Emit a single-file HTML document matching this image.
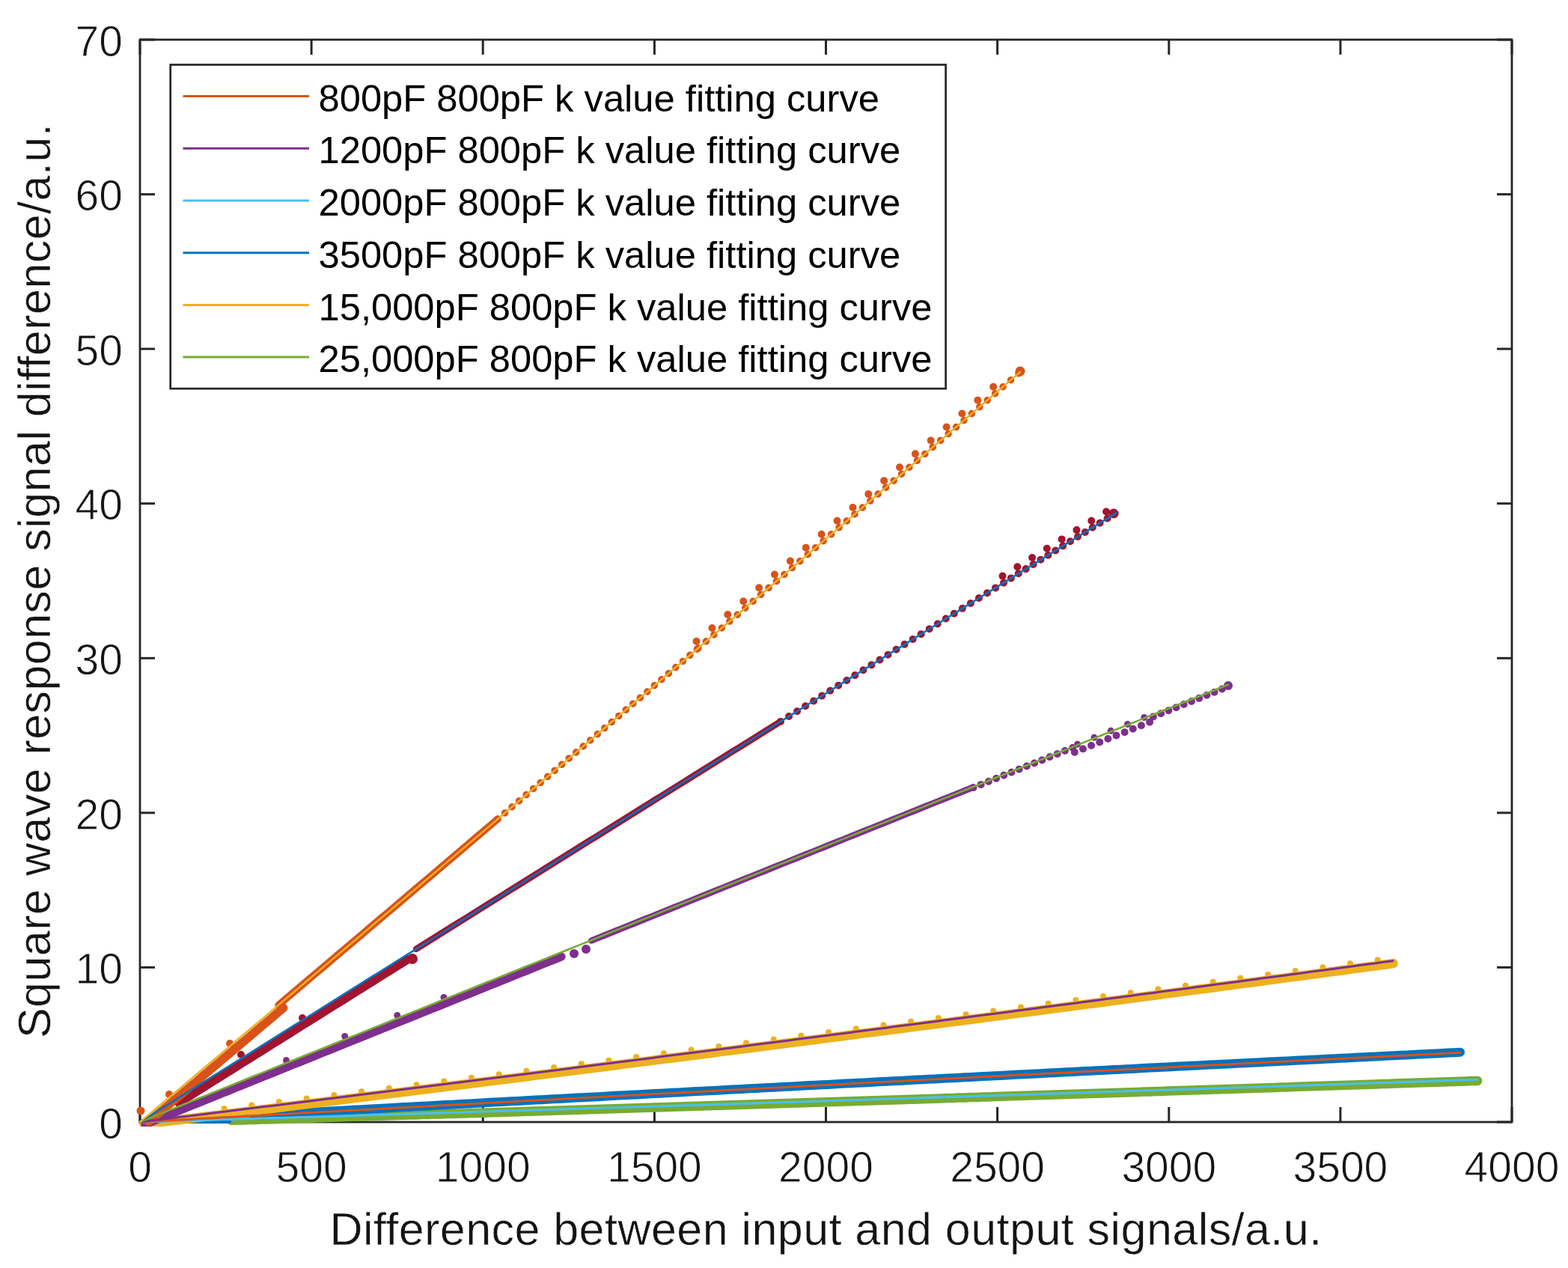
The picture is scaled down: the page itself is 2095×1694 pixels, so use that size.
<!DOCTYPE html>
<html><head><meta charset="utf-8"><style>
html,body{margin:0;padding:0;background:#fff;}
svg{display:block;}
text{font-family:"Liberation Sans",Arial,sans-serif;fill:#141414;stroke:#fff;stroke-width:0.9px;paint-order:fill;}
</style></head><body>
<svg width="2095" height="1694" viewBox="0 0 2095 1694">
<rect width="2095" height="1694" fill="#fff"/>
<defs><clipPath id="c"><rect x="179.0" y="53.0" width="1841.0" height="1452.0"/></clipPath></defs>
<rect x="187.0" y="53.0" width="1833.0" height="1446.0" fill="none" stroke="#262626" stroke-width="2.8"/>
<line x1="187.0" y1="1499.0" x2="187.0" y2="1479.0" stroke="#262626" stroke-width="3"/>
<line x1="187.0" y1="53.0" x2="187.0" y2="73.0" stroke="#262626" stroke-width="3"/>
<line x1="416.1" y1="1499.0" x2="416.1" y2="1479.0" stroke="#262626" stroke-width="3"/>
<line x1="416.1" y1="53.0" x2="416.1" y2="73.0" stroke="#262626" stroke-width="3"/>
<line x1="645.2" y1="1499.0" x2="645.2" y2="1479.0" stroke="#262626" stroke-width="3"/>
<line x1="645.2" y1="53.0" x2="645.2" y2="73.0" stroke="#262626" stroke-width="3"/>
<line x1="874.4" y1="1499.0" x2="874.4" y2="1479.0" stroke="#262626" stroke-width="3"/>
<line x1="874.4" y1="53.0" x2="874.4" y2="73.0" stroke="#262626" stroke-width="3"/>
<line x1="1103.5" y1="1499.0" x2="1103.5" y2="1479.0" stroke="#262626" stroke-width="3"/>
<line x1="1103.5" y1="53.0" x2="1103.5" y2="73.0" stroke="#262626" stroke-width="3"/>
<line x1="1332.6" y1="1499.0" x2="1332.6" y2="1479.0" stroke="#262626" stroke-width="3"/>
<line x1="1332.6" y1="53.0" x2="1332.6" y2="73.0" stroke="#262626" stroke-width="3"/>
<line x1="1561.8" y1="1499.0" x2="1561.8" y2="1479.0" stroke="#262626" stroke-width="3"/>
<line x1="1561.8" y1="53.0" x2="1561.8" y2="73.0" stroke="#262626" stroke-width="3"/>
<line x1="1790.9" y1="1499.0" x2="1790.9" y2="1479.0" stroke="#262626" stroke-width="3"/>
<line x1="1790.9" y1="53.0" x2="1790.9" y2="73.0" stroke="#262626" stroke-width="3"/>
<line x1="2020.0" y1="1499.0" x2="2020.0" y2="1479.0" stroke="#262626" stroke-width="3"/>
<line x1="2020.0" y1="53.0" x2="2020.0" y2="73.0" stroke="#262626" stroke-width="3"/>
<line x1="187.0" y1="1499.0" x2="207.0" y2="1499.0" stroke="#262626" stroke-width="3"/>
<line x1="2020.0" y1="1499.0" x2="2000.0" y2="1499.0" stroke="#262626" stroke-width="3"/>
<line x1="187.0" y1="1292.4" x2="207.0" y2="1292.4" stroke="#262626" stroke-width="3"/>
<line x1="2020.0" y1="1292.4" x2="2000.0" y2="1292.4" stroke="#262626" stroke-width="3"/>
<line x1="187.0" y1="1085.9" x2="207.0" y2="1085.9" stroke="#262626" stroke-width="3"/>
<line x1="2020.0" y1="1085.9" x2="2000.0" y2="1085.9" stroke="#262626" stroke-width="3"/>
<line x1="187.0" y1="879.3" x2="207.0" y2="879.3" stroke="#262626" stroke-width="3"/>
<line x1="2020.0" y1="879.3" x2="2000.0" y2="879.3" stroke="#262626" stroke-width="3"/>
<line x1="187.0" y1="672.7" x2="207.0" y2="672.7" stroke="#262626" stroke-width="3"/>
<line x1="2020.0" y1="672.7" x2="2000.0" y2="672.7" stroke="#262626" stroke-width="3"/>
<line x1="187.0" y1="466.1" x2="207.0" y2="466.1" stroke="#262626" stroke-width="3"/>
<line x1="2020.0" y1="466.1" x2="2000.0" y2="466.1" stroke="#262626" stroke-width="3"/>
<line x1="187.0" y1="259.6" x2="207.0" y2="259.6" stroke="#262626" stroke-width="3"/>
<line x1="2020.0" y1="259.6" x2="2000.0" y2="259.6" stroke="#262626" stroke-width="3"/>
<line x1="187.0" y1="53.0" x2="207.0" y2="53.0" stroke="#262626" stroke-width="3"/>
<line x1="2020.0" y1="53.0" x2="2000.0" y2="53.0" stroke="#262626" stroke-width="3"/>
<text x="187.0" y="1579" text-anchor="middle" font-size="57">0</text>
<text x="416.1" y="1579" text-anchor="middle" font-size="57">500</text>
<text x="645.2" y="1579" text-anchor="middle" font-size="57">1000</text>
<text x="874.4" y="1579" text-anchor="middle" font-size="57">1500</text>
<text x="1103.5" y="1579" text-anchor="middle" font-size="57">2000</text>
<text x="1332.6" y="1579" text-anchor="middle" font-size="57">2500</text>
<text x="1561.8" y="1579" text-anchor="middle" font-size="57">3000</text>
<text x="1790.9" y="1579" text-anchor="middle" font-size="57">3500</text>
<text x="2020.0" y="1579" text-anchor="middle" font-size="57">4000</text>
<text x="164" y="1520.6" text-anchor="end" font-size="57">0</text>
<text x="164" y="1314.0" text-anchor="end" font-size="57">10</text>
<text x="164" y="1107.5" text-anchor="end" font-size="57">20</text>
<text x="164" y="900.9" text-anchor="end" font-size="57">30</text>
<text x="164" y="694.3" text-anchor="end" font-size="57">40</text>
<text x="164" y="487.7" text-anchor="end" font-size="57">50</text>
<text x="164" y="281.2" text-anchor="end" font-size="57">60</text>
<text x="164" y="74.6" text-anchor="end" font-size="57">70</text>
<text x="1103.5" y="1663" text-anchor="middle" font-size="61" letter-spacing="0.45" style="stroke-width:0.5px">Difference between input and output signals/a.u.</text>
<text transform="translate(66.8,776.0) rotate(-90)" x="0" y="0" text-anchor="middle" font-size="61" letter-spacing="0.45" style="stroke-width:0.5px">Square wave response signal difference/a.u.</text>
<g clip-path="url(#c)">
<path d="M309.0,1496.8 L317.0,1496.6 L325.0,1496.4 L332.9,1496.1 L340.9,1495.9 L348.9,1495.6 L356.8,1495.4 L364.8,1495.2 L372.8,1494.9 L380.7,1494.7 L388.7,1494.4 L396.7,1494.2 L404.6,1494.0 L412.6,1493.7 L420.6,1493.5 L428.5,1493.2 L436.5,1493.0 L444.5,1492.8 L452.4,1492.5 L460.4,1492.3 L468.4,1492.0 L476.3,1491.8 L484.3,1491.5 L492.3,1491.3 L500.2,1491.1 L508.2,1490.8 L516.2,1490.6 L524.1,1490.3 L532.1,1490.1 L540.1,1489.8 L548.0,1489.6 L556.0,1489.4 L564.0,1489.1 L571.9,1488.9 L579.9,1488.6 L587.9,1488.4 L595.8,1488.1 L603.8,1487.9 L611.8,1487.7 L619.7,1487.4 L627.7,1487.2 L635.7,1486.9 L643.6,1486.7 L651.6,1486.4 L659.6,1486.2 L667.5,1485.9 L675.5,1485.7 L683.5,1485.4 L691.4,1485.2 L699.4,1485.0 L707.4,1484.7 L715.3,1484.5 L723.3,1484.2 L731.3,1484.0 L739.2,1483.7 L747.2,1483.5 L755.2,1483.2 L763.1,1483.0 L771.1,1482.7 L779.1,1482.5 L787.0,1482.2 L795.0,1482.0 L803.0,1481.7 L810.9,1481.5 L818.9,1481.2 L826.9,1481.0 L834.8,1480.8 L842.8,1480.5 L850.8,1480.3 L858.7,1480.0 L866.7,1479.8 L874.7,1479.5 L882.6,1479.3 L890.6,1479.0 L898.6,1478.8 L906.5,1478.5 L914.5,1478.3 L922.5,1478.0 L930.4,1477.8 L938.4,1477.5 L946.4,1477.3 L954.3,1477.0 L962.3,1476.8 L970.3,1476.5 L978.2,1476.3 L986.2,1476.0 L994.2,1475.8 L1002.1,1475.5 L1010.1,1475.3 L1018.1,1475.0 L1026.0,1474.8 L1034.0,1474.5 L1042.0,1474.3 L1049.9,1474.0 L1057.9,1473.7 L1065.9,1473.5 L1073.8,1473.2 L1081.8,1473.0 L1089.8,1472.7 L1097.7,1472.5 L1105.7,1472.2 L1113.7,1472.0 L1121.6,1471.7 L1129.6,1471.5 L1137.6,1471.2 L1145.5,1471.0 L1153.5,1470.7 L1161.5,1470.5 L1169.4,1470.2 L1177.4,1470.0 L1185.4,1469.7 L1193.3,1469.4 L1201.3,1469.2 L1209.3,1468.9 L1217.2,1468.7 L1225.2,1468.4 L1233.2,1468.2 L1241.1,1467.9 L1249.1,1467.7 L1257.1,1467.4 L1265.0,1467.1 L1273.0,1466.9 L1281.0,1466.6 L1288.9,1466.4 L1296.9,1466.1 L1304.9,1465.9 L1312.8,1465.6 L1320.8,1465.4 L1328.8,1465.1 L1336.7,1464.8 L1344.7,1464.6 L1352.7,1464.3 L1360.6,1464.1 L1368.6,1463.8 L1376.6,1463.6 L1384.5,1463.3 L1392.5,1463.0 L1400.5,1462.8 L1408.4,1462.5 L1416.4,1462.3 L1424.4,1462.0 L1432.3,1461.8 L1440.3,1461.5 L1448.3,1461.2 L1456.2,1461.0 L1464.2,1460.7 L1472.2,1460.5 L1480.1,1460.2 L1488.1,1459.9 L1496.1,1459.7 L1504.0,1459.4 L1512.0,1459.2 L1520.0,1458.9 L1527.9,1458.6 L1535.9,1458.4 L1543.9,1458.1 L1551.8,1457.9 L1559.8,1457.6 L1567.8,1457.3 L1575.7,1457.1 L1583.7,1456.8 L1591.7,1456.6 L1599.6,1456.3 L1607.6,1456.0 L1615.6,1455.8 L1623.5,1455.5 L1631.5,1455.2 L1639.5,1455.0 L1647.4,1454.7 L1655.4,1454.5 L1663.4,1454.2 L1671.3,1453.9 L1679.3,1453.7 L1687.3,1453.4 L1695.2,1453.2 L1703.2,1452.9 L1711.2,1452.6 L1719.1,1452.4 L1727.1,1452.1 L1735.1,1451.8 L1743.0,1451.6 L1751.0,1451.3 L1759.0,1451.0 L1766.9,1450.8 L1774.9,1450.5 L1782.9,1450.3 L1790.8,1450.0 L1798.8,1449.7 L1806.8,1449.5 L1814.7,1449.2 L1822.7,1448.9 L1830.7,1448.7 L1838.6,1448.4 L1846.6,1448.1 L1854.6,1447.9 L1862.5,1447.6 L1870.5,1447.3 L1878.5,1447.1 L1886.4,1446.8 L1894.4,1446.5 L1902.4,1446.3 L1910.3,1446.0 L1918.3,1445.7 L1926.3,1445.5 L1934.2,1445.2 L1942.2,1444.9 L1950.2,1444.7 L1958.1,1444.4 L1966.1,1444.1 L1974.1,1443.9" fill="none" stroke="#77AC30" stroke-width="12.5" stroke-linecap="round" stroke-linejoin="round" />
<path d="M190.0,1498.0 L306.0,1498.0" fill="none" stroke="#0072BD" stroke-width="6" stroke-linecap="round" stroke-linejoin="round" />
<path d="M340.0,1490.0 L347.9,1489.6 L355.9,1489.2 L363.9,1488.7 L371.9,1488.3 L379.8,1487.8 L387.8,1487.4 L395.8,1487.0 L403.8,1486.5 L411.7,1486.1 L419.7,1485.6 L427.7,1485.2 L435.7,1484.8 L443.7,1484.3 L451.6,1483.9 L459.6,1483.5 L467.6,1483.0 L475.6,1482.6 L483.5,1482.2 L491.5,1481.7 L499.5,1481.3 L507.5,1480.9 L515.4,1480.4 L523.4,1480.0 L531.4,1479.6 L539.4,1479.1 L547.3,1478.7 L555.3,1478.3 L563.3,1477.8 L571.3,1477.4 L579.2,1477.0 L587.2,1476.5 L595.2,1476.1 L603.2,1475.7 L611.1,1475.2 L619.1,1474.8 L627.1,1474.4 L635.1,1473.9 L643.0,1473.5 L651.0,1473.1 L659.0,1472.6 L667.0,1472.2 L674.9,1471.8 L682.9,1471.3 L690.9,1470.9 L698.9,1470.5 L706.8,1470.1 L714.8,1469.6 L722.8,1469.2 L730.8,1468.8 L738.7,1468.3 L746.7,1467.9 L754.7,1467.5 L762.7,1467.1 L770.6,1466.6 L778.6,1466.2 L786.6,1465.8 L794.6,1465.4 L802.5,1464.9 L810.5,1464.5 L818.5,1464.1 L826.5,1463.6 L834.4,1463.2 L842.4,1462.8 L850.4,1462.4 L858.4,1461.9 L866.3,1461.5 L874.3,1461.1 L882.3,1460.7 L890.3,1460.2 L898.2,1459.8 L906.2,1459.4 L914.2,1459.0 L922.2,1458.6 L930.1,1458.1 L938.1,1457.7 L946.1,1457.3 L954.1,1456.9 L962.0,1456.4 L970.0,1456.0 L978.0,1455.6 L986.0,1455.2 L993.9,1454.8 L1001.9,1454.3 L1009.9,1453.9 L1017.9,1453.5 L1025.8,1453.1 L1033.8,1452.7 L1041.8,1452.2 L1049.8,1451.8 L1057.7,1451.4 L1065.7,1451.0 L1073.7,1450.6 L1081.7,1450.1 L1089.6,1449.7 L1097.6,1449.3 L1105.6,1448.9 L1113.6,1448.5 L1121.5,1448.0 L1129.5,1447.6 L1137.5,1447.2 L1145.5,1446.8 L1153.4,1446.4 L1161.4,1446.0 L1169.4,1445.5 L1177.4,1445.1 L1185.4,1444.7 L1193.3,1444.3 L1201.3,1443.9 L1209.3,1443.5 L1217.3,1443.1 L1225.2,1442.6 L1233.2,1442.2 L1241.2,1441.8 L1249.2,1441.4 L1257.1,1441.0 L1265.1,1440.6 L1273.1,1440.2 L1281.1,1439.7 L1289.0,1439.3 L1297.0,1438.9 L1305.0,1438.5 L1313.0,1438.1 L1320.9,1437.7 L1328.9,1437.3 L1336.9,1436.9 L1344.9,1436.4 L1352.8,1436.0 L1360.8,1435.6 L1368.8,1435.2 L1376.8,1434.8 L1384.7,1434.4 L1392.7,1434.0 L1400.7,1433.6 L1408.7,1433.2 L1416.6,1432.8 L1424.6,1432.3 L1432.6,1431.9 L1440.6,1431.5 L1448.5,1431.1 L1456.5,1430.7 L1464.5,1430.3 L1472.5,1429.9 L1480.4,1429.5 L1488.4,1429.1 L1496.4,1428.7 L1504.4,1428.3 L1512.3,1427.9 L1520.3,1427.4 L1528.3,1427.0 L1536.3,1426.6 L1544.2,1426.2 L1552.2,1425.8 L1560.2,1425.4 L1568.2,1425.0 L1576.1,1424.6 L1584.1,1424.2 L1592.1,1423.8 L1600.1,1423.4 L1608.0,1423.0 L1616.0,1422.6 L1624.0,1422.2 L1632.0,1421.8 L1639.9,1421.4 L1647.9,1421.0 L1655.9,1420.6 L1663.9,1420.2 L1671.8,1419.8 L1679.8,1419.4 L1687.8,1419.0 L1695.8,1418.6 L1703.7,1418.2 L1711.7,1417.8 L1719.7,1417.4 L1727.7,1417.0 L1735.6,1416.6 L1743.6,1416.2 L1751.6,1415.8 L1759.6,1415.4 L1767.5,1415.0 L1775.5,1414.6 L1783.5,1414.2 L1791.5,1413.8 L1799.4,1413.4 L1807.4,1413.0 L1815.4,1412.6 L1823.4,1412.2 L1831.3,1411.8 L1839.3,1411.4 L1847.3,1411.0 L1855.3,1410.6 L1863.2,1410.2 L1871.2,1409.8 L1879.2,1409.4 L1887.2,1409.0 L1895.1,1408.6 L1903.1,1408.2 L1911.1,1407.8 L1919.1,1407.4 L1927.0,1407.0 L1935.0,1406.6 L1943.0,1406.2 L1951.0,1405.8" fill="none" stroke="#0072BD" stroke-width="12" stroke-linecap="round" stroke-linejoin="round" />
<path d="M192.4,1501.9 L200.4,1500.9 L208.4,1499.9 L216.4,1498.9 L224.4,1497.9 L232.4,1496.9 L240.3,1496.0 L248.3,1495.0 L256.3,1494.0 L264.3,1493.0 L272.3,1492.0 L280.3,1491.0 L288.3,1490.1 L296.2,1489.1 L304.2,1488.1 L312.2,1487.1 L320.2,1486.1 L328.2,1485.1 L336.2,1484.1 L344.2,1483.1 L352.1,1482.1 L360.1,1481.2 L368.1,1480.2 L376.1,1479.2 L384.1,1478.2 L392.1,1477.2 L400.1,1476.2 L408.0,1475.2 L416.0,1474.2 L424.0,1473.2 L432.0,1472.2 L440.0,1471.2 L448.0,1470.2 L456.0,1469.2 L463.9,1468.2 L471.9,1467.2 L479.9,1466.2 L487.9,1465.3 L495.9,1464.3 L503.9,1463.3 L511.9,1462.3 L519.8,1461.3 L527.8,1460.3 L535.8,1459.3 L543.8,1458.3 L551.8,1457.3 L559.8,1456.3 L567.8,1455.3 L575.7,1454.3 L583.7,1453.2 L591.7,1452.2 L599.7,1451.2 L607.7,1450.2 L615.7,1449.2 L623.7,1448.2 L631.6,1447.2 L639.6,1446.2 L647.6,1445.2 L655.6,1444.2 L663.6,1443.2 L671.6,1442.2 L679.6,1441.2 L687.5,1440.2 L695.5,1439.2 L703.5,1438.2 L711.5,1437.1 L719.5,1436.1 L727.5,1435.1 L735.5,1434.1 L743.4,1433.1 L751.4,1432.1 L759.4,1431.1 L767.4,1430.1 L775.4,1429.1 L783.4,1428.0 L791.4,1427.0 L799.4,1426.0 L807.3,1425.0 L815.3,1424.0 L823.3,1423.0 L831.3,1421.9 L839.3,1420.9 L847.3,1419.9 L855.3,1418.9 L863.2,1417.9 L871.2,1416.9 L879.2,1415.8 L887.2,1414.8 L895.2,1413.8 L903.2,1412.8 L911.2,1411.8 L919.1,1410.7 L927.1,1409.7 L935.1,1408.7 L943.1,1407.7 L951.1,1406.7 L959.1,1405.6 L967.1,1404.6 L975.0,1403.6 L983.0,1402.6 L991.0,1401.5 L999.0,1400.5 L1007.0,1399.5 L1015.0,1398.5 L1023.0,1397.4 L1030.9,1396.4 L1038.9,1395.4 L1046.9,1394.3 L1054.9,1393.3 L1062.9,1392.3 L1070.9,1391.3 L1078.9,1390.2 L1086.8,1389.2 L1094.8,1388.2 L1102.8,1387.1 L1110.8,1386.1 L1118.8,1385.1 L1126.8,1384.0 L1134.8,1383.0 L1142.7,1382.0 L1150.7,1380.9 L1158.7,1379.9 L1166.7,1378.9 L1174.7,1377.8 L1182.7,1376.8 L1190.7,1375.8 L1198.6,1374.7 L1206.6,1373.7 L1214.6,1372.6 L1222.6,1371.6 L1230.6,1370.6 L1238.6,1369.5 L1246.6,1368.5 L1254.5,1367.5 L1262.5,1366.4 L1270.5,1365.4 L1278.5,1364.3 L1286.5,1363.3 L1294.5,1362.2 L1302.5,1361.2 L1310.4,1360.2 L1318.4,1359.1 L1326.4,1358.1 L1334.4,1357.0 L1342.4,1356.0 L1350.4,1354.9 L1358.4,1353.9 L1366.3,1352.9 L1374.3,1351.8 L1382.3,1350.8 L1390.3,1349.7 L1398.3,1348.7 L1406.3,1347.6 L1414.3,1346.6 L1422.2,1345.5 L1430.2,1344.5 L1438.2,1343.4 L1446.2,1342.4 L1454.2,1341.3 L1462.2,1340.3 L1470.2,1339.2 L1478.1,1338.2 L1486.1,1337.1 L1494.1,1336.1 L1502.1,1335.0 L1510.1,1334.0 L1518.1,1332.9 L1526.1,1331.8 L1534.0,1330.8 L1542.0,1329.7 L1550.0,1328.7 L1558.0,1327.6 L1566.0,1326.6 L1574.0,1325.5 L1582.0,1324.4 L1589.9,1323.4 L1597.9,1322.3 L1605.9,1321.3 L1613.9,1320.2 L1621.9,1319.2 L1629.9,1318.1 L1637.9,1317.0 L1645.8,1316.0 L1653.8,1314.9 L1661.8,1313.8 L1669.8,1312.8 L1677.8,1311.7 L1685.8,1310.7 L1693.8,1309.6 L1701.7,1308.5 L1709.7,1307.5 L1717.7,1306.4 L1725.7,1305.3 L1733.7,1304.3 L1741.7,1303.2 L1749.7,1302.1 L1757.7,1301.1 L1765.6,1300.0 L1773.6,1298.9 L1781.6,1297.9 L1789.6,1296.8 L1797.6,1295.7 L1805.6,1294.6 L1813.6,1293.6 L1821.5,1292.5 L1829.5,1291.4 L1837.5,1290.4 L1845.5,1289.3 L1853.5,1288.2 L1861.5,1287.1" fill="none" stroke="#EDB120" stroke-width="12.5" stroke-linecap="round" stroke-linejoin="round" />
<path d="M299.5,1481.1 L307.5,1480.1 L315.5,1479.1 L323.5,1478.1 L331.5,1477.2 L339.5,1476.2 L347.4,1475.2 L355.4,1474.2 L363.4,1473.2 L371.4,1472.2 L379.4,1471.2 L387.4,1470.2 L395.4,1469.2 L403.4,1468.2 L411.4,1467.2 L419.4,1466.2 L427.3,1465.2 L435.3,1464.3 L443.3,1463.3 L451.3,1462.3 L459.3,1461.3 L467.3,1460.3 L475.3,1459.3 L483.3,1458.3 L491.3,1457.3 L499.2,1456.3 L507.2,1455.3 L515.2,1454.3 L523.2,1453.3 L531.2,1452.3 L539.2,1451.3 L547.2,1450.3 L555.2,1449.3 L563.2,1448.3 L571.2,1447.3 L579.1,1446.3 L587.1,1445.3 L595.1,1444.3 L603.1,1443.3 L611.1,1442.3 L619.1,1441.2 L627.1,1440.2 L635.1,1439.2 L643.1,1438.2 L651.0,1437.2 L659.0,1436.2 L667.0,1435.2 L675.0,1434.2 L683.0,1433.2 L691.0,1432.2 L699.0,1431.2 L707.0,1430.2 L715.0,1429.2 L723.0,1428.1 L730.9,1427.1 L738.9,1426.1 L746.9,1425.1 L754.9,1424.1 L762.9,1423.1 L770.9,1422.1 L778.9,1421.1 L786.9,1420.0 L794.9,1419.0 L802.8,1418.0 L810.8,1417.0 L818.8,1416.0 L826.8,1415.0 L834.8,1413.9 L842.8,1412.9 L850.8,1411.9 L858.8,1410.9 L866.8,1409.9 L874.8,1408.9 L882.7,1407.8 L890.7,1406.8 L898.7,1405.8 L906.7,1404.8 L914.7,1403.7 L922.7,1402.7 L930.7,1401.7 L938.7,1400.7 L946.7,1399.7 L954.6,1398.6 L962.6,1397.6 L970.6,1396.6 L978.6,1395.6 L986.6,1394.5 L994.6,1393.5 L1002.6,1392.5 L1010.6,1391.5 L1018.6,1390.4 L1026.6,1389.4 L1034.5,1388.4 L1042.5,1387.3 L1050.5,1386.3 L1058.5,1385.3 L1066.5,1384.3 L1074.5,1383.2 L1082.5,1382.2 L1090.5,1381.2 L1098.5,1380.1 L1106.4,1379.1 L1114.4,1378.1 L1122.4,1377.0 L1130.4,1376.0 L1138.4,1375.0 L1146.4,1373.9 L1154.4,1372.9 L1162.4,1371.9 L1170.4,1370.8 L1178.4,1369.8 L1186.3,1368.8 L1194.3,1367.7 L1202.3,1366.7 L1210.3,1365.6 L1218.3,1364.6 L1226.3,1363.6 L1234.3,1362.5 L1242.3,1361.5 L1250.3,1360.4 L1258.2,1359.4 L1266.2,1358.4 L1274.2,1357.3 L1282.2,1356.3 L1290.2,1355.2 L1298.2,1354.2 L1306.2,1353.2 L1314.2,1352.1 L1322.2,1351.1 L1330.2,1350.0 L1338.1,1349.0 L1346.1,1347.9 L1354.1,1346.9 L1362.1,1345.8 L1370.1,1344.8 L1378.1,1343.7 L1386.1,1342.7 L1394.1,1341.7 L1402.1,1340.6 L1410.0,1339.6 L1418.0,1338.5 L1426.0,1337.5 L1434.0,1336.4 L1442.0,1335.4 L1450.0,1334.3 L1458.0,1333.3 L1466.0,1332.2 L1474.0,1331.1 L1482.0,1330.1 L1489.9,1329.0 L1497.9,1328.0 L1505.9,1326.9 L1513.9,1325.9 L1521.9,1324.8 L1529.9,1323.8 L1537.9,1322.7 L1545.9,1321.7 L1553.9,1320.6 L1561.8,1319.5 L1569.8,1318.5 L1577.8,1317.4 L1585.8,1316.4 L1593.8,1315.3 L1601.8,1314.3 L1609.8,1313.2 L1617.8,1312.1 L1625.8,1311.1 L1633.8,1310.0 L1641.7,1308.9 L1649.7,1307.9 L1657.7,1306.8 L1665.7,1305.8 L1673.7,1304.7 L1681.7,1303.6 L1689.7,1302.6 L1697.7,1301.5 L1705.7,1300.4 L1713.6,1299.4 L1721.6,1298.3 L1729.6,1297.2 L1737.6,1296.2 L1745.6,1295.1 L1753.6,1294.0 L1761.6,1293.0 L1769.6,1291.9 L1777.6,1290.8 L1785.6,1289.8 L1793.5,1288.7 L1801.5,1287.6 L1809.5,1286.6 L1817.5,1285.5 L1825.5,1284.4 L1833.5,1283.3 L1841.5,1282.3 L1849.5,1281.2" fill="none" stroke="#EDB120" stroke-width="8" stroke-linecap="round" stroke-dasharray="0 37"/>
<path d="M194.1,1502.1 L202.0,1498.9 L209.9,1495.7 L217.9,1492.5 L225.8,1489.3 L233.8,1486.1 L241.7,1482.9 L249.7,1479.7 L257.6,1476.5 L265.5,1473.3 L273.5,1470.1 L281.4,1466.9 L289.4,1463.7 L297.3,1460.5 L305.3,1457.3 L313.2,1454.0 L321.1,1450.8 L329.1,1447.6 L337.0,1444.4 L345.0,1441.2 L352.9,1438.0 L360.9,1434.8 L368.8,1431.6 L376.7,1428.4 L384.7,1425.2 L392.6,1422.0 L400.6,1418.8 L408.5,1415.6 L416.5,1412.4 L424.4,1409.2 L432.3,1406.0 L440.3,1402.8 L448.2,1399.6 L456.2,1396.4 L464.1,1393.2 L472.1,1390.0 L480.0,1386.8 L487.9,1383.6 L495.9,1380.4 L503.8,1377.2 L511.8,1374.0 L519.7,1370.8 L527.7,1367.6 L535.6,1364.5 L543.5,1361.3 L551.5,1358.1 L559.4,1354.9 L567.4,1351.7 L575.3,1348.5 L583.3,1345.3 L591.2,1342.1 L599.1,1338.9 L607.1,1335.7 L615.0,1332.5 L623.0,1329.3 L630.9,1326.1 L638.9,1322.9 L646.8,1319.7 L654.7,1316.5 L662.7,1313.3 L670.6,1310.1 L678.6,1306.9 L686.5,1303.7 L694.5,1300.5 L702.4,1297.3 L710.3,1294.1 L718.3,1290.9 L726.2,1287.7 L734.2,1284.5 L742.1,1281.3 L750.1,1278.1" fill="none" stroke="#7E2F8E" stroke-width="11" stroke-linecap="round" stroke-linejoin="round" />
<circle cx="767.0" cy="1274.0" r="6" fill="#7E2F8E"/>
<circle cx="783.0" cy="1268.0" r="6" fill="#7E2F8E"/>
<path d="M790.2,1256.6 L798.2,1253.4 L806.1,1250.2 L814.1,1247.0 L822.1,1243.8 L830.0,1240.6 L838.0,1237.4 L846.0,1234.2 L853.9,1231.0 L861.9,1227.8 L869.9,1224.6 L877.8,1221.4 L885.8,1218.2 L893.8,1215.0 L901.7,1211.8 L909.7,1208.6 L917.7,1205.4 L925.7,1202.1 L933.6,1198.9 L941.6,1195.7 L949.6,1192.5 L957.5,1189.3 L965.5,1186.1 L973.5,1182.9 L981.4,1179.7 L989.4,1176.5 L997.4,1173.3 L1005.3,1170.1 L1013.3,1166.9 L1021.3,1163.7 L1029.2,1160.5 L1037.2,1157.3 L1045.2,1154.1 L1053.2,1150.9 L1061.1,1147.7 L1069.1,1144.5 L1077.1,1141.3 L1085.0,1138.1 L1093.0,1134.9 L1101.0,1131.7 L1108.9,1128.5 L1116.9,1125.3 L1124.9,1122.1 L1132.8,1118.9 L1140.8,1115.7 L1148.8,1112.5 L1156.7,1109.3 L1164.7,1106.1 L1172.7,1102.9 L1180.7,1099.7 L1188.6,1096.5 L1196.6,1093.3 L1204.6,1090.1 L1212.5,1086.9 L1220.5,1083.7 L1228.5,1080.5 L1236.4,1077.3 L1244.4,1074.1 L1252.4,1070.9 L1260.3,1067.8 L1268.3,1064.6 L1276.3,1061.4 L1284.2,1058.2 L1292.2,1055.0 L1300.2,1051.8" fill="none" stroke="#7E2F8E" stroke-width="8.5" stroke-linecap="round" stroke-linejoin="round" />
<path d="M1300.4,1052.2 L1308.2,1049.1 L1316.0,1046.0 L1323.8,1042.8 L1331.7,1039.7 L1339.5,1036.5 L1347.3,1033.4 L1355.1,1030.3 L1363.0,1027.1 L1370.8,1024.0 L1378.6,1020.9 L1386.4,1017.7 L1394.3,1014.6 L1402.1,1011.4 L1409.9,1008.3 L1417.7,1005.2 L1425.5,1002.0 L1433.4,998.9" fill="none" stroke="#7E2F8E" stroke-width="10" stroke-linecap="round" stroke-dasharray="0 11"/>
<path d="M1435.8,1004.9 L1443.4,1001.9 L1451.1,998.8 L1458.7,995.7 L1466.4,992.7 L1474.0,989.6 L1481.6,986.5 L1489.3,983.5 L1496.9,980.4 L1504.6,977.4 L1512.2,974.3 L1519.9,971.2 L1527.5,968.2 L1535.1,965.1 L1542.8,962.0" fill="none" stroke="#7E2F8E" stroke-width="10" stroke-linecap="round" stroke-dasharray="0 12"/>
<path d="M1439.6,994.2 L1447.3,991.1 L1455.0,988.1 L1462.7,985.0 L1470.4,981.9 L1478.1,978.8 L1485.8,975.7 L1493.5,972.6 L1501.2,969.6 L1508.9,966.5 L1516.6,963.4 L1524.2,960.3 L1531.9,957.2 L1539.6,954.2" fill="none" stroke="#7E2F8E" stroke-width="9" stroke-linecap="round" stroke-dasharray="0 24"/>
<path d="M1540.9,957.4 L1548.8,954.2 L1556.8,951.1 L1564.7,947.9 L1572.6,944.7 L1580.5,941.5 L1588.4,938.4 L1596.3,935.2 L1604.3,932.0 L1612.2,928.9 L1620.1,925.7 L1628.0,922.5 L1635.9,919.3" fill="none" stroke="#7E2F8E" stroke-width="10" stroke-linecap="round" stroke-dasharray="0 11"/>
<circle cx="1641.0" cy="916.0" r="6" fill="#7E2F8E"/>
<path d="M238.9,1472.9 L246.7,1468.0 L254.6,1463.1 L262.4,1458.2 L270.2,1453.3 L278.0,1448.4 L285.8,1443.5 L293.7,1438.6 L301.5,1433.7 L309.3,1428.8 L317.1,1423.9 L324.9,1419.0 L332.8,1414.1 L340.6,1409.2 L348.4,1404.3 L356.2,1399.4 L364.0,1394.5 L371.9,1389.6 L379.7,1384.7 L387.5,1379.8 L395.3,1374.9 L403.1,1370.0 L411.0,1365.1 L418.8,1360.2 L426.6,1355.3 L434.4,1350.4 L442.3,1345.5 L450.1,1340.7 L457.9,1335.8 L465.7,1330.9 L473.5,1326.0 L481.4,1321.1 L489.2,1316.2 L497.0,1311.3 L504.8,1306.4 L512.6,1301.5 L520.5,1296.6 L528.3,1291.7 L536.1,1286.8 L543.9,1281.9" fill="none" stroke="#A2142F" stroke-width="12" stroke-linecap="round" stroke-linejoin="round" />
<circle cx="551.0" cy="1281.0" r="7" fill="#A2142F"/>
<path d="M556.0,1267.9 L564.0,1262.9 L572.0,1257.9 L580.0,1252.9 L587.9,1247.9 L595.9,1242.9 L603.9,1237.9 L611.9,1232.9 L619.9,1228.0 L627.9,1223.0 L635.8,1218.0 L643.8,1213.0 L651.8,1208.0 L659.8,1203.0 L667.8,1198.0 L675.8,1193.0 L683.7,1188.0 L691.7,1183.1 L699.7,1178.1 L707.7,1173.1 L715.7,1168.1 L723.7,1163.1 L731.6,1158.1 L739.6,1153.1 L747.6,1148.2 L755.6,1143.2 L763.6,1138.2 L771.6,1133.2 L779.5,1128.2 L787.5,1123.2 L795.5,1118.3 L803.5,1113.3 L811.5,1108.3 L819.5,1103.3 L827.4,1098.3 L835.4,1093.3 L843.4,1088.4 L851.4,1083.4 L859.4,1078.4 L867.4,1073.4 L875.3,1068.4 L883.3,1063.5 L891.3,1058.5 L899.3,1053.5 L907.3,1048.5 L915.3,1043.6 L923.2,1038.6 L931.2,1033.6 L939.2,1028.6 L947.2,1023.6 L955.2,1018.7 L963.2,1013.7 L971.1,1008.7 L979.1,1003.7 L987.1,998.8 L995.1,993.8 L1003.1,988.8 L1011.1,983.8 L1019.0,978.9 L1027.0,973.9 L1035.0,968.9 L1043.0,963.9" fill="none" stroke="#A2142F" stroke-width="8.5" stroke-linecap="round" stroke-linejoin="round" />
<path d="M1043.0,963.9 L1050.8,959.1 L1058.7,954.2 L1066.5,949.3 L1074.4,944.4 L1082.2,939.5 L1090.1,934.6 L1097.9,929.8 L1105.7,924.9 L1113.6,920.0 L1121.4,915.1 L1129.3,910.2 L1137.1,905.4 L1144.9,900.5 L1152.8,895.6 L1160.6,890.7 L1168.5,885.8 L1176.3,881.0 L1184.2,876.1 L1192.0,871.2 L1199.8,866.3 L1207.7,861.4 L1215.5,856.6 L1223.4,851.7 L1231.2,846.8 L1239.1,841.9 L1246.9,837.0 L1254.7,832.2 L1262.6,827.3 L1270.4,822.4 L1278.3,817.5 L1286.1,812.7 L1293.9,807.8 L1301.8,802.9 L1309.6,798.0 L1317.5,793.2 L1325.3,788.3 L1333.2,783.4 L1341.0,778.6" fill="none" stroke="#A2142F" stroke-width="10" stroke-linecap="round" stroke-dasharray="0 13"/>
<path d="M1341.0,778.6 L1348.9,773.6 L1356.8,768.7 L1364.7,763.8 L1372.6,758.9 L1380.5,754.0 L1388.4,749.1 L1396.3,744.2 L1404.2,739.3 L1412.1,734.4 L1419.9,729.5 L1427.8,724.6 L1435.7,719.7 L1443.6,714.8 L1451.5,709.9 L1459.4,705.0 L1467.3,700.1 L1475.2,695.2 L1483.1,690.3 L1491.0,685.4" fill="none" stroke="#A2142F" stroke-width="10" stroke-linecap="round" stroke-dasharray="0 11.65"/>
<path d="M1339.5,769.6 L1347.3,764.7 L1355.2,759.8 L1363.0,755.0 L1370.8,750.1 L1378.7,745.2 L1386.5,740.4 L1394.3,735.5 L1402.2,730.6 L1410.0,725.8 L1417.8,720.9 L1425.7,716.0 L1433.5,711.2 L1441.3,706.3 L1449.2,701.4 L1457.0,696.6 L1464.8,691.7 L1472.7,686.9 L1480.5,682.0" fill="none" stroke="#A2142F" stroke-width="10" stroke-linecap="round" stroke-dasharray="0 23.3"/>
<circle cx="1488.0" cy="686.0" r="6.5" fill="#A2142F"/>
<path d="M198.6,1498.6 L206.5,1492.0 L214.3,1485.4 L222.1,1478.8 L229.9,1472.2 L237.8,1465.6 L245.6,1459.0 L253.4,1452.4 L261.3,1445.8 L269.1,1439.2 L276.9,1432.6 L284.7,1425.9 L292.6,1419.3 L300.4,1412.7 L308.2,1406.1 L316.0,1399.5 L323.9,1392.9 L331.7,1386.3 L339.5,1379.7 L347.3,1373.0 L355.2,1366.4 L363.0,1359.8 L370.8,1353.2 L378.7,1346.6" fill="none" stroke="#D95319" stroke-width="11.5" stroke-linecap="round" stroke-linejoin="round" />
<circle cx="226.0" cy="1462.0" r="5" fill="#D95319"/>
<circle cx="307.0" cy="1394.0" r="5" fill="#D95319"/>
<circle cx="322.0" cy="1409.0" r="5" fill="#A2142F"/>
<circle cx="404.0" cy="1360.0" r="5" fill="#A2142F"/>
<circle cx="382.5" cy="1416.6" r="4.5" fill="#7E2F8E"/>
<circle cx="460.7" cy="1384.5" r="4.5" fill="#7E2F8E"/>
<circle cx="530.8" cy="1356.4" r="4.5" fill="#7E2F8E"/>
<circle cx="593.0" cy="1332.4" r="4.5" fill="#7E2F8E"/>
<path d="M372.0,1342.8 L379.9,1336.1 L387.8,1329.4 L395.8,1322.7 L403.7,1315.9 L411.6,1309.2 L419.5,1302.5 L427.4,1295.8 L435.4,1289.1 L443.3,1282.4 L451.2,1275.7 L459.1,1269.0 L467.0,1262.3 L474.9,1255.6 L482.9,1248.9 L490.8,1242.2 L498.7,1235.4 L506.6,1228.7 L514.5,1222.0 L522.5,1215.3 L530.4,1208.6 L538.3,1201.9 L546.2,1195.1 L554.1,1188.4 L562.1,1181.7 L570.0,1175.0 L577.9,1168.3 L585.8,1161.5 L593.7,1154.8 L601.6,1148.1 L609.6,1141.4 L617.5,1134.6 L625.4,1127.9 L633.3,1121.2 L641.2,1114.4 L649.2,1107.7 L657.1,1101.0 L665.0,1094.2" fill="none" stroke="#D95319" stroke-width="9.5" stroke-linecap="round" stroke-linejoin="round" />
<path d="M665.0,1094.2 L672.9,1087.5 L680.8,1080.8 L688.6,1074.1 L696.5,1067.4 L704.4,1060.7 L712.3,1054.0 L720.2,1047.3 L728.1,1040.6 L735.9,1033.9 L743.8,1027.2 L751.7,1020.4 L759.6,1013.7 L767.5,1007.0 L775.4,1000.3 L783.2,993.6 L791.1,986.9 L799.0,980.2 L806.9,973.4 L814.8,966.7 L822.6,960.0 L830.5,953.3 L838.4,946.5 L846.3,939.8 L854.2,933.1 L862.1,926.4 L869.9,919.6 L877.8,912.9 L885.7,906.2 L893.6,899.5 L901.5,892.7 L909.4,886.0 L917.2,879.3 L925.1,872.5 L933.0,865.8" fill="none" stroke="#D95319" stroke-width="9.5" stroke-linecap="round" stroke-dasharray="0 12.5"/>
<path d="M933.0,865.8 L940.9,859.0 L948.9,852.2 L956.8,845.4 L964.8,838.6 L972.7,831.8 L980.7,825.0 L988.6,818.3 L996.6,811.5 L1004.5,804.7 L1012.4,797.9 L1020.4,791.1 L1028.3,784.3 L1036.3,777.5 L1044.2,770.7 L1052.2,763.9 L1060.1,757.1 L1068.1,750.3 L1076.0,743.5 L1083.9,736.7 L1091.9,729.8 L1099.8,723.0 L1107.8,716.2 L1115.7,709.4 L1123.7,702.6 L1131.6,695.8 L1139.6,689.0 L1147.5,682.2 L1155.4,675.4 L1163.4,668.5 L1171.3,661.7 L1179.3,654.9 L1187.2,648.1 L1195.2,641.3 L1203.1,634.5 L1211.1,627.6 L1219.0,620.8 L1226.9,614.0 L1234.9,607.2 L1242.8,600.3 L1250.8,593.5 L1258.7,586.7 L1266.7,579.9 L1274.6,573.0 L1282.6,566.2 L1290.5,559.4 L1298.4,552.5 L1306.4,545.7 L1314.3,538.9 L1322.3,532.0 L1330.2,525.2 L1338.2,518.4 L1346.1,511.5 L1354.1,504.7 L1362.0,497.9" fill="none" stroke="#D95319" stroke-width="9.5" stroke-linecap="round" stroke-dasharray="0 13.75"/>
<path d="M930.5,856.8 L938.4,850.0 L946.3,843.3 L954.3,836.5 L962.2,829.7 L970.1,822.9 L978.0,816.2 L986.0,809.4 L993.9,802.6 L1001.8,795.8 L1009.7,789.0 L1017.7,782.3 L1025.6,775.5 L1033.5,768.7 L1041.4,761.9 L1049.3,755.1 L1057.3,748.4 L1065.2,741.6 L1073.1,734.8 L1081.0,728.0 L1089.0,721.2 L1096.9,714.4 L1104.8,707.6 L1112.7,700.8 L1120.7,694.0 L1128.6,687.3 L1136.5,680.5 L1144.4,673.7 L1152.3,666.9 L1160.3,660.1 L1168.2,653.3 L1176.1,646.5 L1184.0,639.7 L1192.0,632.9 L1199.9,626.1 L1207.8,619.3 L1215.7,612.5 L1223.7,605.7 L1231.6,598.9 L1239.5,592.1 L1247.4,585.2 L1255.3,578.4 L1263.3,571.6 L1271.2,564.8 L1279.1,558.0 L1287.0,551.2 L1295.0,544.4 L1302.9,537.6 L1310.8,530.8 L1318.7,523.9 L1326.7,517.1 L1334.6,510.3 L1342.5,503.5" fill="none" stroke="#D95319" stroke-width="10" stroke-linecap="round" stroke-dasharray="0 27.5"/>
<circle cx="1363.0" cy="496.0" r="6.5" fill="#D95319"/>
<circle cx="188.0" cy="1484.0" r="5.5" fill="#D95319"/>
<path d="M187.0,1499.0 L195.0,1498.8 L203.0,1498.5 L210.9,1498.3 L218.9,1498.0 L226.9,1497.8 L234.9,1497.6 L242.8,1497.3 L250.8,1497.1 L258.8,1496.9 L266.8,1496.6 L274.8,1496.4 L282.7,1496.1 L290.7,1495.9 L298.7,1495.7 L306.7,1495.4 L314.6,1495.2 L322.6,1494.9 L330.6,1494.7 L338.6,1494.5 L346.6,1494.2 L354.5,1494.0 L362.5,1493.7 L370.5,1493.5 L378.5,1493.3 L386.4,1493.0 L394.4,1492.8 L402.4,1492.5 L410.4,1492.3 L418.4,1492.1 L426.3,1491.8 L434.3,1491.6 L442.3,1491.3 L450.3,1491.1 L458.2,1490.8 L466.2,1490.6 L474.2,1490.4 L482.2,1490.1 L490.2,1489.9 L498.1,1489.6 L506.1,1489.4 L514.1,1489.1 L522.1,1488.9 L530.0,1488.7 L538.0,1488.4 L546.0,1488.2 L554.0,1487.9 L562.0,1487.7 L569.9,1487.4 L577.9,1487.2 L585.9,1486.9 L593.9,1486.7 L601.8,1486.5 L609.8,1486.2 L617.8,1486.0 L625.8,1485.7 L633.8,1485.5 L641.7,1485.2 L649.7,1485.0 L657.7,1484.7 L665.7,1484.5 L673.6,1484.2 L681.6,1484.0 L689.6,1483.8 L697.6,1483.5 L705.5,1483.3 L713.5,1483.0 L721.5,1482.8 L729.5,1482.5 L737.5,1482.3 L745.4,1482.0 L753.4,1481.8 L761.4,1481.5 L769.4,1481.3 L777.3,1481.0 L785.3,1480.8 L793.3,1480.5 L801.3,1480.3 L809.3,1480.0 L817.2,1479.8 L825.2,1479.6 L833.2,1479.3 L841.2,1479.1 L849.1,1478.8 L857.1,1478.6 L865.1,1478.3 L873.1,1478.1 L881.1,1477.8 L889.0,1477.6 L897.0,1477.3 L905.0,1477.1 L913.0,1476.8 L920.9,1476.6 L928.9,1476.3 L936.9,1476.1 L944.9,1475.8 L952.9,1475.6 L960.8,1475.3 L968.8,1475.1 L976.8,1474.8 L984.8,1474.6 L992.7,1474.3 L1000.7,1474.1 L1008.7,1473.8 L1016.7,1473.5 L1024.7,1473.3 L1032.6,1473.0 L1040.6,1472.8 L1048.6,1472.5 L1056.6,1472.3 L1064.5,1472.0 L1072.5,1471.8 L1080.5,1471.5 L1088.5,1471.3 L1096.5,1471.0 L1104.4,1470.8 L1112.4,1470.5 L1120.4,1470.3 L1128.4,1470.0 L1136.3,1469.8 L1144.3,1469.5 L1152.3,1469.3 L1160.3,1469.0 L1168.3,1468.7 L1176.2,1468.5 L1184.2,1468.2 L1192.2,1468.0 L1200.2,1467.7 L1208.1,1467.5 L1216.1,1467.2 L1224.1,1467.0 L1232.1,1466.7 L1240.1,1466.4 L1248.0,1466.2 L1256.0,1465.9 L1264.0,1465.7 L1272.0,1465.4 L1279.9,1465.2 L1287.9,1464.9 L1295.9,1464.7 L1303.9,1464.4 L1311.9,1464.1 L1319.8,1463.9 L1327.8,1463.6 L1335.8,1463.4 L1343.8,1463.1 L1351.7,1462.9 L1359.7,1462.6 L1367.7,1462.3 L1375.7,1462.1 L1383.7,1461.8 L1391.6,1461.6 L1399.6,1461.3 L1407.6,1461.1 L1415.6,1460.8 L1423.5,1460.5 L1431.5,1460.3 L1439.5,1460.0 L1447.5,1459.8 L1455.5,1459.5 L1463.4,1459.2 L1471.4,1459.0 L1479.4,1458.7 L1487.4,1458.5 L1495.3,1458.2 L1503.3,1457.9 L1511.3,1457.7 L1519.3,1457.4 L1527.2,1457.2 L1535.2,1456.9 L1543.2,1456.6 L1551.2,1456.4 L1559.2,1456.1 L1567.1,1455.9 L1575.1,1455.6 L1583.1,1455.3 L1591.1,1455.1 L1599.0,1454.8 L1607.0,1454.6 L1615.0,1454.3 L1623.0,1454.0 L1631.0,1453.8 L1638.9,1453.5 L1646.9,1453.2 L1654.9,1453.0 L1662.9,1452.7 L1670.8,1452.5 L1678.8,1452.2 L1686.8,1451.9 L1694.8,1451.7 L1702.8,1451.4 L1710.7,1451.1 L1718.7,1450.9 L1726.7,1450.6 L1734.7,1450.3 L1742.6,1450.1 L1750.6,1449.8 L1758.6,1449.6 L1766.6,1449.3 L1774.6,1449.0 L1782.5,1448.8 L1790.5,1448.5 L1798.5,1448.2 L1806.5,1448.0 L1814.4,1447.7 L1822.4,1447.4 L1830.4,1447.2 L1838.4,1446.9 L1846.4,1446.6 L1854.3,1446.4 L1862.3,1446.1 L1870.3,1445.8 L1878.3,1445.6 L1886.2,1445.3 L1894.2,1445.0 L1902.2,1444.8 L1910.2,1444.5 L1918.2,1444.2 L1926.1,1444.0 L1934.1,1443.7 L1942.1,1443.4 L1950.1,1443.2 L1958.0,1442.9 L1966.0,1442.6 L1974.0,1442.4" fill="none" stroke="#4DBEEE" stroke-width="3.2" stroke-linecap="round" stroke-linejoin="round" />
<path d="M187.0,1499.0 L195.0,1498.6 L203.0,1498.1 L210.9,1497.7 L218.9,1497.2 L226.9,1496.8 L234.9,1496.3 L242.9,1495.9 L250.9,1495.5 L258.8,1495.0 L266.8,1494.6 L274.8,1494.1 L282.8,1493.7 L290.8,1493.2 L298.7,1492.8 L306.7,1492.4 L314.7,1491.9 L322.7,1491.5 L330.7,1491.0 L338.7,1490.6 L346.6,1490.2 L354.6,1489.7 L362.6,1489.3 L370.6,1488.8 L378.6,1488.4 L386.5,1488.0 L394.5,1487.5 L402.5,1487.1 L410.5,1486.7 L418.5,1486.2 L426.5,1485.8 L434.4,1485.3 L442.4,1484.9 L450.4,1484.5 L458.4,1484.0 L466.4,1483.6 L474.3,1483.2 L482.3,1482.7 L490.3,1482.3 L498.3,1481.9 L506.3,1481.4 L514.3,1481.0 L522.2,1480.6 L530.2,1480.1 L538.2,1479.7 L546.2,1479.2 L554.2,1478.8 L562.1,1478.4 L570.1,1477.9 L578.1,1477.5 L586.1,1477.1 L594.1,1476.6 L602.1,1476.2 L610.0,1475.8 L618.0,1475.4 L626.0,1474.9 L634.0,1474.5 L642.0,1474.1 L650.0,1473.6 L657.9,1473.2 L665.9,1472.8 L673.9,1472.3 L681.9,1471.9 L689.9,1471.5 L697.8,1471.0 L705.8,1470.6 L713.8,1470.2 L721.8,1469.8 L729.8,1469.3 L737.8,1468.9 L745.7,1468.5 L753.7,1468.0 L761.7,1467.6 L769.7,1467.2 L777.7,1466.8 L785.6,1466.3 L793.6,1465.9 L801.6,1465.5 L809.6,1465.1 L817.6,1464.6 L825.6,1464.2 L833.5,1463.8 L841.5,1463.3 L849.5,1462.9 L857.5,1462.5 L865.5,1462.1 L873.4,1461.6 L881.4,1461.2 L889.4,1460.8 L897.4,1460.4 L905.4,1459.9 L913.4,1459.5 L921.3,1459.1 L929.3,1458.7 L937.3,1458.3 L945.3,1457.8 L953.3,1457.4 L961.2,1457.0 L969.2,1456.6 L977.2,1456.1 L985.2,1455.7 L993.2,1455.3 L1001.2,1454.9 L1009.1,1454.5 L1017.1,1454.0 L1025.1,1453.6 L1033.1,1453.2 L1041.1,1452.8 L1049.0,1452.4 L1057.0,1451.9 L1065.0,1451.5 L1073.0,1451.1 L1081.0,1450.7 L1089.0,1450.3 L1096.9,1449.8 L1104.9,1449.4 L1112.9,1449.0 L1120.9,1448.6 L1128.9,1448.2 L1136.8,1447.7 L1144.8,1447.3 L1152.8,1446.9 L1160.8,1446.5 L1168.8,1446.1 L1176.8,1445.7 L1184.7,1445.2 L1192.7,1444.8 L1200.7,1444.4 L1208.7,1444.0 L1216.7,1443.6 L1224.6,1443.2 L1232.6,1442.8 L1240.6,1442.3 L1248.6,1441.9 L1256.6,1441.5 L1264.6,1441.1 L1272.5,1440.7 L1280.5,1440.3 L1288.5,1439.9 L1296.5,1439.4 L1304.5,1439.0 L1312.4,1438.6 L1320.4,1438.2 L1328.4,1437.8 L1336.4,1437.4 L1344.4,1437.0 L1352.4,1436.6 L1360.3,1436.1 L1368.3,1435.7 L1376.3,1435.3 L1384.3,1434.9 L1392.3,1434.5 L1400.2,1434.1 L1408.2,1433.7 L1416.2,1433.3 L1424.2,1432.9 L1432.2,1432.5 L1440.2,1432.0 L1448.1,1431.6 L1456.1,1431.2 L1464.1,1430.8 L1472.1,1430.4 L1480.1,1430.0 L1488.0,1429.6 L1496.0,1429.2 L1504.0,1428.8 L1512.0,1428.4 L1520.0,1428.0 L1528.0,1427.6 L1535.9,1427.2 L1543.9,1426.7 L1551.9,1426.3 L1559.9,1425.9 L1567.9,1425.5 L1575.9,1425.1 L1583.8,1424.7 L1591.8,1424.3 L1599.8,1423.9 L1607.8,1423.5 L1615.8,1423.1 L1623.7,1422.7 L1631.7,1422.3 L1639.7,1421.9 L1647.7,1421.5 L1655.7,1421.1 L1663.7,1420.7 L1671.6,1420.3 L1679.6,1419.9 L1687.6,1419.5 L1695.6,1419.1 L1703.6,1418.7 L1711.5,1418.3 L1719.5,1417.9 L1727.5,1417.5 L1735.5,1417.1 L1743.5,1416.7 L1751.5,1416.3 L1759.4,1415.9 L1767.4,1415.5 L1775.4,1415.1 L1783.4,1414.7 L1791.4,1414.3 L1799.3,1413.9 L1807.3,1413.5 L1815.3,1413.1 L1823.3,1412.7 L1831.3,1412.3 L1839.3,1411.9 L1847.2,1411.5 L1855.2,1411.1 L1863.2,1410.7 L1871.2,1410.3 L1879.2,1409.9 L1887.1,1409.5 L1895.1,1409.1 L1903.1,1408.7 L1911.1,1408.3 L1919.1,1407.9 L1927.1,1407.5 L1935.0,1407.1 L1943.0,1406.7 L1951.0,1406.3" fill="none" stroke="#D95319" stroke-width="3" stroke-linecap="round" stroke-linejoin="round" />
<path d="M187.0,1499.0 L195.0,1498.0 L202.9,1497.0 L210.9,1496.1 L218.9,1495.1 L226.9,1494.1 L234.8,1493.1 L242.8,1492.1 L250.8,1491.2 L258.7,1490.2 L266.7,1489.2 L274.7,1488.2 L282.7,1487.2 L290.6,1486.2 L298.6,1485.2 L306.6,1484.3 L314.5,1483.3 L322.5,1482.3 L330.5,1481.3 L338.5,1480.3 L346.4,1479.3 L354.4,1478.3 L362.4,1477.4 L370.3,1476.4 L378.3,1475.4 L386.3,1474.4 L394.3,1473.4 L402.2,1472.4 L410.2,1471.4 L418.2,1470.4 L426.1,1469.4 L434.1,1468.4 L442.1,1467.4 L450.1,1466.4 L458.0,1465.5 L466.0,1464.5 L474.0,1463.5 L481.9,1462.5 L489.9,1461.5 L497.9,1460.5 L505.9,1459.5 L513.8,1458.5 L521.8,1457.5 L529.8,1456.5 L537.7,1455.5 L545.7,1454.5 L553.7,1453.5 L561.7,1452.5 L569.6,1451.5 L577.6,1450.5 L585.6,1449.5 L593.5,1448.5 L601.5,1447.5 L609.5,1446.5 L617.5,1445.5 L625.4,1444.5 L633.4,1443.5 L641.4,1442.5 L649.3,1441.5 L657.3,1440.5 L665.3,1439.5 L673.3,1438.5 L681.2,1437.4 L689.2,1436.4 L697.2,1435.4 L705.1,1434.4 L713.1,1433.4 L721.1,1432.4 L729.1,1431.4 L737.0,1430.4 L745.0,1429.4 L753.0,1428.4 L760.9,1427.4 L768.9,1426.3 L776.9,1425.3 L784.9,1424.3 L792.8,1423.3 L800.8,1422.3 L808.8,1421.3 L816.7,1420.3 L824.7,1419.3 L832.7,1418.2 L840.7,1417.2 L848.6,1416.2 L856.6,1415.2 L864.6,1414.2 L872.5,1413.2 L880.5,1412.1 L888.5,1411.1 L896.5,1410.1 L904.4,1409.1 L912.4,1408.1 L920.4,1407.1 L928.3,1406.0 L936.3,1405.0 L944.3,1404.0 L952.3,1403.0 L960.2,1402.0 L968.2,1400.9 L976.2,1399.9 L984.1,1398.9 L992.1,1397.9 L1000.1,1396.8 L1008.1,1395.8 L1016.0,1394.8 L1024.0,1393.8 L1032.0,1392.7 L1039.9,1391.7 L1047.9,1390.7 L1055.9,1389.7 L1063.9,1388.6 L1071.8,1387.6 L1079.8,1386.6 L1087.8,1385.5 L1095.7,1384.5 L1103.7,1383.5 L1111.7,1382.5 L1119.7,1381.4 L1127.6,1380.4 L1135.6,1379.4 L1143.6,1378.3 L1151.5,1377.3 L1159.5,1376.3 L1167.5,1375.2 L1175.5,1374.2 L1183.4,1373.2 L1191.4,1372.1 L1199.4,1371.1 L1207.3,1370.1 L1215.3,1369.0 L1223.3,1368.0 L1231.3,1367.0 L1239.2,1365.9 L1247.2,1364.9 L1255.2,1363.8 L1263.1,1362.8 L1271.1,1361.8 L1279.1,1360.7 L1287.1,1359.7 L1295.0,1358.6 L1303.0,1357.6 L1311.0,1356.6 L1318.9,1355.5 L1326.9,1354.5 L1334.9,1353.4 L1342.9,1352.4 L1350.8,1351.4 L1358.8,1350.3 L1366.8,1349.3 L1374.7,1348.2 L1382.7,1347.2 L1390.7,1346.1 L1398.7,1345.1 L1406.6,1344.0 L1414.6,1343.0 L1422.6,1341.9 L1430.5,1340.9 L1438.5,1339.9 L1446.5,1338.8 L1454.5,1337.8 L1462.4,1336.7 L1470.4,1335.7 L1478.4,1334.6 L1486.3,1333.6 L1494.3,1332.5 L1502.3,1331.5 L1510.3,1330.4 L1518.2,1329.3 L1526.2,1328.3 L1534.2,1327.2 L1542.1,1326.2 L1550.1,1325.1 L1558.1,1324.1 L1566.1,1323.0 L1574.0,1322.0 L1582.0,1320.9 L1590.0,1319.9 L1597.9,1318.8 L1605.9,1317.7 L1613.9,1316.7 L1621.9,1315.6 L1629.8,1314.6 L1637.8,1313.5 L1645.8,1312.4 L1653.7,1311.4 L1661.7,1310.3 L1669.7,1309.3 L1677.7,1308.2 L1685.6,1307.1 L1693.6,1306.1 L1701.6,1305.0 L1709.5,1304.0 L1717.5,1302.9 L1725.5,1301.8 L1733.5,1300.8 L1741.4,1299.7 L1749.4,1298.6 L1757.4,1297.6 L1765.3,1296.5 L1773.3,1295.4 L1781.3,1294.4 L1789.3,1293.3 L1797.2,1292.2 L1805.2,1291.2 L1813.2,1290.1 L1821.1,1289.0 L1829.1,1288.0 L1837.1,1286.9 L1845.1,1285.8 L1853.0,1284.7 L1861.0,1283.7" fill="none" stroke="#7E2F8E" stroke-width="3" stroke-linecap="round" stroke-linejoin="round" />
<path d="M187.0,1499.0 L195.0,1495.8 L203.0,1492.6 L211.0,1489.3 L219.0,1486.1 L226.9,1482.9 L234.9,1479.7 L242.9,1476.5 L250.9,1473.2 L258.9,1470.0 L266.9,1466.8 L274.9,1463.6 L282.9,1460.3 L290.9,1457.1 L298.8,1453.9 L306.8,1450.7 L314.8,1447.5 L322.8,1444.2 L330.8,1441.0 L338.8,1437.8 L346.8,1434.6 L354.8,1431.4 L362.8,1428.1 L370.7,1424.9 L378.7,1421.7 L386.7,1418.5 L394.7,1415.3 L402.7,1412.0 L410.7,1408.8 L418.7,1405.6 L426.7,1402.4 L434.7,1399.2 L442.6,1396.0 L450.6,1392.7 L458.6,1389.5 L466.6,1386.3 L474.6,1383.1 L482.6,1379.9 L490.6,1376.6 L498.6,1373.4 L506.6,1370.2 L514.5,1367.0 L522.5,1363.8 L530.5,1360.6 L538.5,1357.3 L546.5,1354.1 L554.5,1350.9 L562.5,1347.7 L570.5,1344.5 L578.5,1341.3 L586.5,1338.0 L594.4,1334.8 L602.4,1331.6 L610.4,1328.4 L618.4,1325.2 L626.4,1322.0 L634.4,1318.8 L642.4,1315.5 L650.4,1312.3 L658.4,1309.1 L666.3,1305.9 L674.3,1302.7 L682.3,1299.5 L690.3,1296.2 L698.3,1293.0 L706.3,1289.8 L714.3,1286.6 L722.3,1283.4 L730.3,1280.2 L738.2,1277.0 L746.2,1273.8 L754.2,1270.5 L762.2,1267.3 L770.2,1264.1 L778.2,1260.9 L786.2,1257.7 L794.2,1254.5 L802.2,1251.3 L810.1,1248.0 L818.1,1244.8 L826.1,1241.6 L834.1,1238.4 L842.1,1235.2 L850.1,1232.0 L858.1,1228.8 L866.1,1225.6 L874.1,1222.4 L882.0,1219.1 L890.0,1215.9 L898.0,1212.7 L906.0,1209.5 L914.0,1206.3 L922.0,1203.1 L930.0,1199.9 L938.0,1196.7 L946.0,1193.5 L953.9,1190.2 L961.9,1187.0 L969.9,1183.8 L977.9,1180.6 L985.9,1177.4 L993.9,1174.2 L1001.9,1171.0 L1009.9,1167.8 L1017.9,1164.6 L1025.8,1161.4 L1033.8,1158.1 L1041.8,1154.9 L1049.8,1151.7 L1057.8,1148.5 L1065.8,1145.3 L1073.8,1142.1 L1081.8,1138.9 L1089.8,1135.7 L1097.7,1132.5 L1105.7,1129.3 L1113.7,1126.1 L1121.7,1122.9 L1129.7,1119.6 L1137.7,1116.4 L1145.7,1113.2 L1153.7,1110.0 L1161.7,1106.8 L1169.6,1103.6 L1177.6,1100.4 L1185.6,1097.2 L1193.6,1094.0 L1201.6,1090.8 L1209.6,1087.6 L1217.6,1084.4 L1225.6,1081.2 L1233.6,1078.0 L1241.5,1074.8 L1249.5,1071.5 L1257.5,1068.3 L1265.5,1065.1 L1273.5,1061.9 L1281.5,1058.7 L1289.5,1055.5 L1297.5,1052.3 L1305.5,1049.1 L1313.5,1045.9 L1321.4,1042.7 L1329.4,1039.5 L1337.4,1036.3 L1345.4,1033.1 L1353.4,1029.9 L1361.4,1026.7 L1369.4,1023.5 L1377.4,1020.3 L1385.4,1017.1 L1393.3,1013.9 L1401.3,1010.7 L1409.3,1007.5 L1417.3,1004.3 L1425.3,1001.1 L1433.3,997.9 L1441.3,994.6 L1449.3,991.4 L1457.3,988.2 L1465.2,985.0 L1473.2,981.8 L1481.2,978.6 L1489.2,975.4 L1497.2,972.2 L1505.2,969.0 L1513.2,965.8 L1521.2,962.6 L1529.2,959.4 L1537.1,956.2 L1545.1,953.0 L1553.1,949.8 L1561.1,946.6 L1569.1,943.4 L1577.1,940.2 L1585.1,937.0 L1593.1,933.8 L1601.1,930.6 L1609.0,927.4 L1617.0,924.2 L1625.0,921.0 L1633.0,917.8 L1641.0,914.6" fill="none" stroke="#77AC30" stroke-width="2.6" stroke-linecap="round" stroke-linejoin="round" />
<path d="M187.0,1499.0 L195.0,1494.0 L202.9,1489.0 L210.9,1484.0 L218.8,1479.1 L226.8,1474.1 L234.7,1469.1 L242.7,1464.1 L250.6,1459.1 L258.6,1454.1 L266.5,1449.1 L274.5,1444.2 L282.4,1439.2 L290.4,1434.2 L298.3,1429.2 L306.3,1424.2 L314.2,1419.2 L322.2,1414.3 L330.1,1409.3 L338.1,1404.3 L346.0,1399.3 L354.0,1394.3 L361.9,1389.4 L369.9,1384.4 L377.8,1379.4 L385.8,1374.4 L393.7,1369.4 L401.7,1364.5 L409.6,1359.5 L417.6,1354.5 L425.5,1349.5 L433.5,1344.5 L441.4,1339.6 L449.4,1334.6 L457.3,1329.6 L465.3,1324.6 L473.2,1319.7 L481.2,1314.7 L489.1,1309.7 L497.1,1304.7 L505.0,1299.8 L513.0,1294.8 L521.0,1289.8 L528.9,1284.8 L536.9,1279.9 L544.8,1274.9 L552.8,1269.9 L560.7,1264.9 L568.7,1260.0 L576.6,1255.0 L584.6,1250.0 L592.5,1245.1 L600.5,1240.1 L608.4,1235.1 L616.4,1230.1 L624.3,1225.2 L632.3,1220.2 L640.2,1215.2 L648.2,1210.3 L656.1,1205.3 L664.1,1200.3 L672.0,1195.4 L680.0,1190.4 L687.9,1185.4 L695.9,1180.5 L703.8,1175.5 L711.8,1170.5 L719.7,1165.6 L727.7,1160.6 L735.6,1155.6 L743.6,1150.7 L751.5,1145.7 L759.5,1140.7 L767.4,1135.8 L775.4,1130.8 L783.3,1125.9 L791.3,1120.9 L799.2,1115.9 L807.2,1111.0 L815.1,1106.0 L823.1,1101.0 L831.0,1096.1 L839.0,1091.1 L847.0,1086.2 L854.9,1081.2 L862.9,1076.2 L870.8,1071.3 L878.8,1066.3 L886.7,1061.4 L894.7,1056.4 L902.6,1051.4 L910.6,1046.5 L918.5,1041.5 L926.5,1036.6 L934.4,1031.6 L942.4,1026.7 L950.3,1021.7 L958.3,1016.7 L966.2,1011.8 L974.2,1006.8 L982.1,1001.9 L990.1,996.9 L998.0,992.0 L1006.0,987.0 L1013.9,982.1 L1021.9,977.1 L1029.8,972.1 L1037.8,967.2 L1045.7,962.2 L1053.7,957.3 L1061.6,952.3 L1069.6,947.4 L1077.5,942.4 L1085.5,937.5 L1093.4,932.5 L1101.4,927.6 L1109.3,922.6 L1117.3,917.7 L1125.2,912.7 L1133.2,907.8 L1141.1,902.8 L1149.1,897.9 L1157.0,892.9 L1165.0,888.0 L1173.0,883.0 L1180.9,878.1 L1188.9,873.1 L1196.8,868.2 L1204.8,863.3 L1212.7,858.3 L1220.7,853.4 L1228.6,848.4 L1236.6,843.5 L1244.5,838.5 L1252.5,833.6 L1260.4,828.6 L1268.4,823.7 L1276.3,818.8 L1284.3,813.8 L1292.2,808.9 L1300.2,803.9 L1308.1,799.0 L1316.1,794.0 L1324.0,789.1 L1332.0,784.2 L1339.9,779.2 L1347.9,774.3 L1355.8,769.3 L1363.8,764.4 L1371.7,759.5 L1379.7,754.5 L1387.6,749.6 L1395.6,744.6 L1403.5,739.7 L1411.5,734.8 L1419.4,729.8 L1427.4,724.9 L1435.3,720.0 L1443.3,715.0 L1451.2,710.1 L1459.2,705.1 L1467.1,700.2 L1475.1,695.3 L1483.0,690.3 L1491.0,685.4" fill="none" stroke="#0072BD" stroke-width="2.6" stroke-linecap="round" stroke-linejoin="round" />
<path d="M187.0,1499.0 L194.9,1492.3 L202.9,1485.6 L210.8,1478.9 L218.8,1472.2 L226.7,1465.5 L234.7,1458.8 L242.6,1452.1 L250.6,1445.4 L258.5,1438.7 L266.5,1432.0 L274.4,1425.2 L282.4,1418.5 L290.3,1411.8 L298.2,1405.1 L306.2,1398.4 L314.1,1391.7 L322.1,1385.0 L330.0,1378.2 L338.0,1371.5 L345.9,1364.8 L353.9,1358.1 L361.8,1351.4 L369.8,1344.7 L377.7,1337.9 L385.6,1331.2 L393.6,1324.5 L401.5,1317.8 L409.5,1311.0 L417.4,1304.3 L425.4,1297.6 L433.3,1290.8 L441.3,1284.1 L449.2,1277.4 L457.2,1270.7 L465.1,1263.9 L473.1,1257.2 L481.0,1250.5 L488.9,1243.7 L496.9,1237.0 L504.8,1230.2 L512.8,1223.5 L520.7,1216.8 L528.7,1210.0 L536.6,1203.3 L544.6,1196.5 L552.5,1189.8 L560.5,1183.1 L568.4,1176.3 L576.4,1169.6 L584.3,1162.8 L592.2,1156.1 L600.2,1149.3 L608.1,1142.6 L616.1,1135.8 L624.0,1129.1 L632.0,1122.3 L639.9,1115.6 L647.9,1108.8 L655.8,1102.1 L663.8,1095.3 L671.7,1088.5 L679.6,1081.8 L687.6,1075.0 L695.5,1068.3 L703.5,1061.5 L711.4,1054.7 L719.4,1048.0 L727.3,1041.2 L735.3,1034.4 L743.2,1027.7 L751.2,1020.9 L759.1,1014.1 L767.1,1007.4 L775.0,1000.6 L782.9,993.8 L790.9,987.1 L798.8,980.3 L806.8,973.5 L814.7,966.7 L822.7,960.0 L830.6,953.2 L838.6,946.4 L846.5,939.6 L854.5,932.9 L862.4,926.1 L870.4,919.3 L878.3,912.5 L886.2,905.7 L894.2,898.9 L902.1,892.2 L910.1,885.4 L918.0,878.6 L926.0,871.8 L933.9,865.0 L941.9,858.2 L949.8,851.4 L957.8,844.6 L965.7,837.8 L973.6,831.0 L981.6,824.3 L989.5,817.5 L997.5,810.7 L1005.4,803.9 L1013.4,797.1 L1021.3,790.3 L1029.3,783.5 L1037.2,776.7 L1045.2,769.9 L1053.1,763.1 L1061.1,756.3 L1069.0,749.5 L1076.9,742.6 L1084.9,735.8 L1092.8,729.0 L1100.8,722.2 L1108.7,715.4 L1116.7,708.6 L1124.6,701.8 L1132.6,695.0 L1140.5,688.2 L1148.5,681.3 L1156.4,674.5 L1164.4,667.7 L1172.3,660.9 L1180.2,654.1 L1188.2,647.3 L1196.1,640.4 L1204.1,633.6 L1212.0,626.8 L1220.0,620.0 L1227.9,613.2 L1235.9,606.3 L1243.8,599.5 L1251.8,592.7 L1259.7,585.8 L1267.6,579.0 L1275.6,572.2 L1283.5,565.4 L1291.5,558.5 L1299.4,551.7 L1307.4,544.9 L1315.3,538.0 L1323.3,531.2 L1331.2,524.4 L1339.2,517.5 L1347.1,510.7 L1355.1,503.8 L1363.0,497.0" fill="none" stroke="#EDB120" stroke-width="2.4" stroke-linecap="round" stroke-linejoin="round" />
</g>
<rect x="227.7" y="86.5" width="1035.9" height="432.7" fill="#fff" stroke="#262626" stroke-width="2.7"/>
<line x1="244.5" y1="128.6" x2="413" y2="128.6" stroke="#D95319" stroke-width="3"/>
<text x="425.5" y="148.7" font-size="50.7" style="fill:#000;stroke:none">800pF 800pF k value fitting curve</text>
<line x1="244.5" y1="198.3" x2="413" y2="198.3" stroke="#7E2F8E" stroke-width="3"/>
<text x="425.5" y="218.4" font-size="50.7" style="fill:#000;stroke:none">1200pF 800pF k value fitting curve</text>
<line x1="244.5" y1="268.0" x2="413" y2="268.0" stroke="#4DBEEE" stroke-width="3"/>
<text x="425.5" y="288.1" font-size="50.7" style="fill:#000;stroke:none">2000pF 800pF k value fitting curve</text>
<line x1="244.5" y1="337.7" x2="413" y2="337.7" stroke="#0072BD" stroke-width="3"/>
<text x="425.5" y="357.8" font-size="50.7" style="fill:#000;stroke:none">3500pF 800pF k value fitting curve</text>
<line x1="244.5" y1="407.4" x2="413" y2="407.4" stroke="#EDB120" stroke-width="3"/>
<text x="425.5" y="427.5" font-size="50.7" style="fill:#000;stroke:none">15,000pF 800pF k value fitting curve</text>
<line x1="244.5" y1="477.1" x2="413" y2="477.1" stroke="#77AC30" stroke-width="3"/>
<text x="425.5" y="497.2" font-size="50.7" style="fill:#000;stroke:none">25,000pF 800pF k value fitting curve</text>
</svg>
</body></html>
